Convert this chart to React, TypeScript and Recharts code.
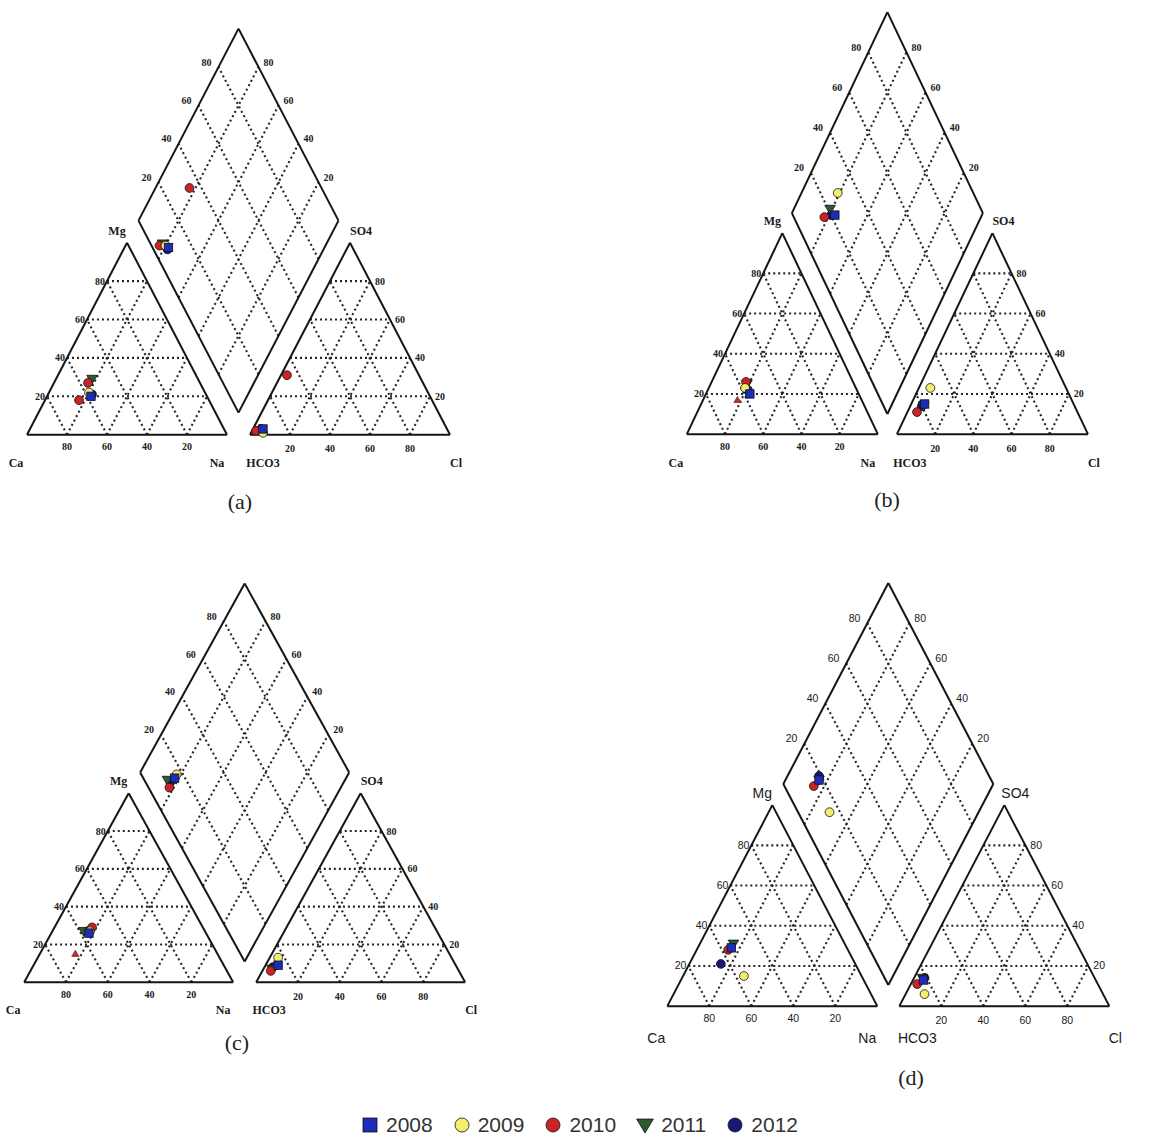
import React from 'react';
import { ScatterChart, Scatter, XAxis, YAxis, ReferenceLine } from 'recharts';

const years = ['2008', '2009', '2010', '2011', '2012'];
const yearColors = ['#1d2db8', '#f2ee6e', '#cc2424', '#2c5b2c', '#18187a'];
const yearShapes = ['square', 'circle', 'circle', 'triangleDown', 'circle'];
const tickValues = [20, 40, 60, 80];
const captions = ['(a)', '(b)', '(c)', '(d)'];

// meq %: cations Ca / Mg / Na+K, anions HCO3 / SO4 / Cl
const samplesA = [
  { year: '2008', ca: 58, mg: 20, na: 22, hco3: 92, so4: 3, cl: 5 },
  { year: '2009', ca: 58, mg: 22, na: 20, hco3: 93, so4: 1, cl: 6 },
  { year: '2010', ca: 56, mg: 27, na: 17, hco3: 96, so4: 2, cl: 2 },
  { year: '2010', ca: 65, mg: 18, na: 17, hco3: 66, so4: 31, cl: 3 },
  { year: '2011', ca: 53, mg: 29, na: 18, hco3: 94, so4: 2, cl: 4 },
  { year: '2012', ca: 57, mg: 21, na: 22, hco3: 93, so4: 3, cl: 4 },
];
const samplesB = [
  { year: '2008', ca: 57, mg: 20, na: 23, hco3: 78, so4: 15, cl: 7 },
  { year: '2009', ca: 58, mg: 23, na: 19, hco3: 71, so4: 23, cl: 6 },
  { year: '2010', ca: 56, mg: 26, na: 18, hco3: 84, so4: 11, cl: 5 },
  { year: '2011', ca: 56, mg: 25, na: 19, hco3: 79, so4: 14, cl: 7 },
  { year: '2012', ca: 57, mg: 22, na: 21, hco3: 80, so4: 14, cl: 6 },
];
const samplesC = [
  { year: '2008', ca: 56, mg: 26, na: 18, hco3: 85, so4: 9, cl: 6 },
  { year: '2009', ca: 55, mg: 27, na: 18, hco3: 83, so4: 13, cl: 4 },
  { year: '2010', ca: 53, mg: 29, na: 18, hco3: 90, so4: 6, cl: 4 },
  { year: '2011', ca: 58, mg: 27, na: 15, hco3: 89, so4: 7, cl: 4 },
  { year: '2012', ca: 56, mg: 27, na: 17, hco3: 88, so4: 8, cl: 4 },
];
const samplesD = [
  { year: '2008', ca: 55, mg: 29, na: 16, hco3: 82, so4: 13, cl: 5 },
  { year: '2009', ca: 56, mg: 15, na: 29, hco3: 85, so4: 6, cl: 9 },
  { year: '2010', ca: 57, mg: 28, na: 15, hco3: 86, so4: 11, cl: 3 },
  { year: '2011', ca: 53, mg: 31, na: 16, hco3: 82, so4: 14, cl: 4 },
  { year: '2012', ca: 64, mg: 21, na: 15, hco3: 81, so4: 14, cl: 5 },
];
// small red marks that only show in the cation triangle
const strayB = [{ ca: 65, mg: 17, na: 18 }];
const strayC = [{ ca: 68, mg: 15, na: 17 }];

const XMIN = -0.13;
const XMAX = 2.25;
const YMIN = -0.24;
const YMAX = 2.16;

const serif = '"Liberation Serif", "DejaVu Serif", serif';
const sans = '"Liberation Sans", Arial, sans-serif';

const layouts = [
  { x0: 27, y0: 435, w: 200, h: 192, g: 0.115, font: serif, tick: 10, corner: 12, cdy: 28, cap: [240, 502] },
  { x0: 687, y0: 434, w: 191, h: 201, g: 0.1, font: serif, tick: 10, corner: 12, cdy: 29, cap: [887, 500] },
  { x0: 24, y0: 982, w: 209, h: 189, g: 0.11, font: serif, tick: 10, corner: 12, cdy: 28, cap: [237, 1043] },
  { x0: 667, y0: 1006, w: 210, h: 201, g: 0.105, font: sans, tick: 10.5, corner: 14, cdy: 32, cap: [911, 1078] },
];

const cationPoint = (s: any) => ({ x: s.na / 100 + s.mg / 200, y: s.mg / 100 });
const anionPoint = (s: any, g: number) => ({ x: 1 + g + s.cl / 100 + s.so4 / 200, y: s.so4 / 100 });
const diamondPoint = (s: any, g: number) => {
  const a = (s.ca + s.mg) / 100;
  const b = (100 - s.hco3) / 100;
  return { x: 1 + g / 2 + (b - a) / 2, y: g + a + b };
};

type Seg = [{ x: number; y: number }, { x: number; y: number }];
const seg = (x1: number, y1: number, x2: number, y2: number): Seg => [{ x: x1, y: y1 }, { x: x2, y: y2 }];

function buildFrame(g: number) {
  const bx = 1 + g / 2;
  const a0 = 1 + g;
  const outline: Seg[] = [
    seg(0, 0, 1, 0), seg(1, 0, 0.5, 1), seg(0.5, 1, 0, 0),
    seg(a0, 0, a0 + 1, 0), seg(a0 + 1, 0, a0 + 0.5, 1), seg(a0 + 0.5, 1, a0, 0),
    seg(bx, g, bx + 0.5, g + 1), seg(bx + 0.5, g + 1, bx, g + 2),
    seg(bx, g + 2, bx - 0.5, g + 1), seg(bx - 0.5, g + 1, bx, g),
  ];
  const grid: Seg[] = [];
  tickValues.forEach((v) => {
    const f = v / 100;
    [0, a0].forEach((o) => {
      grid.push(seg(o + f / 2, f, o + 1 - f / 2, f));
      grid.push(seg(o + f, 0, o + f + (1 - f) / 2, 1 - f));
      grid.push(seg(o + 1 - f, 0, o + (1 - f) / 2, 1 - f));
    });
    grid.push(seg(bx - f / 2, g + f, bx - f / 2 + 0.5, g + f + 1));
    grid.push(seg(bx + f / 2, g + f, bx + f / 2 - 0.5, g + f + 1));
  });
  return { outline, grid };
}

function buildLabels(L: any) {
  const g = L.g;
  const a0 = 1 + g;
  const bx = 1 + g / 2;
  const base = { font: L.font, size: L.tick, weight: L.font === serif ? 700 : 400 };
  const out: any[] = [];
  tickValues.forEach((v) => {
    const f = v / 100;
    out.push({ ...base, x: 1 - f, y: 0, dx: 0, dy: 12, anchor: 'middle', text: String(v) });
    out.push({ ...base, x: f / 2, y: f, dx: -2, dy: 0, anchor: 'end', text: String(v) });
    out.push({ ...base, x: a0 + f, y: 0, dx: 0, dy: 14, anchor: 'middle', text: String(v) });
    out.push({ ...base, x: a0 + 1 - f / 2, y: f, dx: 5, dy: 0, anchor: 'start', text: String(v) });
    out.push({ ...base, x: bx - 0.5 + f / 2, y: g + 1 + f, dx: -7, dy: -5, anchor: 'end', text: String(v) });
    out.push({ ...base, x: bx + 0.5 - f / 2, y: g + 1 + f, dx: 5, dy: -5, anchor: 'start', text: String(v) });
  });
  const c = { ...base, size: L.corner, anchor: 'middle' };
  out.push({ ...c, x: 0, y: 0, dx: -11, dy: L.cdy, text: 'Ca' });
  out.push({ ...c, x: 1, y: 0, dx: -10, dy: L.cdy, text: 'Na' });
  out.push({ ...c, x: a0, y: 0, dx: L.font === serif ? 13 : 18, dy: L.cdy, text: 'HCO3' });
  out.push({ ...c, x: a0 + 1, y: 0, dx: 6, dy: L.cdy, text: 'Cl' });
  out.push({ ...c, x: 0.5, y: 1, dx: -10, dy: -12, text: 'Mg' });
  out.push({ ...c, x: a0 + 0.5, y: 1, dx: 11, dy: -12, text: 'SO4' });
  return out;
}

const TextMark = (props: any) => {
  const { cx, cy, payload } = props;
  if (cx == null || !payload) return null;
  return (
    <text
      x={cx + payload.dx}
      y={cy + payload.dy}
      textAnchor={payload.anchor}
      dominantBaseline="central"
      fontSize={payload.size}
      fontFamily={payload.font}
      fontWeight={payload.weight}
      fill="#1a1a1a"
    >
      {payload.text}
    </text>
  );
};

const Marker = ({ cx, cy, kind, color, r }: any) => {
  if (cx == null) return null;
  if (kind === 'square') {
    return <rect x={cx - r} y={cy - r} width={2 * r} height={2 * r} fill={color} stroke="#111" strokeWidth={0.8} />;
  }
  if (kind === 'triangleDown') {
    return <path d={`M${cx - r * 1.2},${cy - r * 0.85}L${cx + r * 1.2},${cy - r * 0.85}L${cx},${cy + r * 1.15}Z`} fill={color} stroke="#111" strokeWidth={0.8} />;
  }
  if (kind === 'triangleUp') {
    return <path d={`M${cx - r},${cy + r * 0.7}L${cx + r},${cy + r * 0.7}L${cx},${cy - r}Z`} fill={color} stroke="#5a1010" strokeWidth={0.6} />;
  }
  return <circle cx={cx} cy={cy} r={r} fill={color} stroke="#111" strokeWidth={0.8} />;
};

function Piper({ L, samples, stray }: any) {
  const width = (XMAX - XMIN) * L.w;
  const height = (YMAX - YMIN) * L.h;
  const left = L.x0 + XMIN * L.w;
  const top = L.y0 - YMAX * L.h;
  const { outline, grid } = buildFrame(L.g);
  const labels = buildLabels(L);
  const order = [4, 3, 2, 1, 0];
  const strayPts = (stray || []).map(cationPoint);
  return (
    <div style={{ position: 'absolute', left, top, width, height }}>
      <ScatterChart width={width} height={height} margin={{ top: 0, right: 0, bottom: 0, left: 0 }}>
        <XAxis type="number" dataKey="x" domain={[XMIN, XMAX]} hide />
        <YAxis type="number" dataKey="y" domain={[YMIN, YMAX]} hide />
        {grid.map((s, i) => (
          <ReferenceLine key={'g' + i} segment={s} stroke="#262626" strokeWidth={2.1} strokeDasharray="2 3" ifOverflow="visible" />
        ))}
        {outline.map((s, i) => (
          <ReferenceLine key={'o' + i} segment={s} stroke="#151515" strokeWidth={2} ifOverflow="visible" />
        ))}
        <Scatter data={labels} shape={TextMark} isAnimationActive={false} />
        {strayPts.length > 0 && (
          <Scatter
            data={strayPts}
            isAnimationActive={false}
            shape={(p: any) => <Marker cx={p.cx} cy={p.cy} kind="triangleUp" color="#c42a2a" r={3.6} />}
          />
        )}
        {order.map((k) => {
          const pts = samples
            .filter((s: any) => s.year === years[k])
            .flatMap((s: any) => [cationPoint(s), anionPoint(s, L.g), diamondPoint(s, L.g)]);
          return (
            <Scatter
              key={years[k]}
              name={years[k]}
              data={pts}
              isAnimationActive={false}
              shape={(p: any) => <Marker cx={p.cx} cy={p.cy} kind={yearShapes[k]} color={yearColors[k]} r={yearShapes[k] === 'square' ? 4.2 : 4.4} />}
            />
          );
        })}
      </ScatterChart>
    </div>
  );
}

const LegendRow = () => (
  <div
    style={{
      position: 'absolute',
      left: 0,
      width: 1151,
      top: 1110,
      height: 30,
      display: 'flex',
      justifyContent: 'center',
      alignItems: 'center',
      fontFamily: sans,
      fontSize: 21,
      color: '#333',
      paddingLeft: 4,
    }}
  >
    {years.map((y, k) => (
      <div key={y} style={{ display: 'flex', alignItems: 'center', marginRight: k < years.length - 1 ? 20 : 0 }}>
        <svg width={18} height={18} style={{ marginRight: 7 }}>
          <Marker cx={9} cy={9} kind={yearShapes[k]} color={yearColors[k]} r={7} />
        </svg>
        <span>{y}</span>
      </div>
    ))}
  </div>
);

export default function App() {
  const sets = [samplesA, samplesB, samplesC, samplesD];
  const strays = [[], strayB, strayC, []];
  return (
    <div style={{ position: 'absolute', left: 0, top: 0, width: 1151, height: 1137, overflow: 'hidden', background: '#fff' }}>
      {layouts.map((L, i) => (
        <Piper key={i} L={L} samples={sets[i]} stray={strays[i]} />
      ))}
      {layouts.map((L, i) => (
        <div
          key={'c' + i}
          style={{
            position: 'absolute',
            left: L.cap[0] - 40,
            top: L.cap[1] - 14,
            width: 80,
            textAlign: 'center',
            fontFamily: serif,
            fontSize: 22,
            lineHeight: '28px',
            color: '#222',
          }}
        >
          {captions[i]}
        </div>
      ))}
      <LegendRow />
    </div>
  );
}
